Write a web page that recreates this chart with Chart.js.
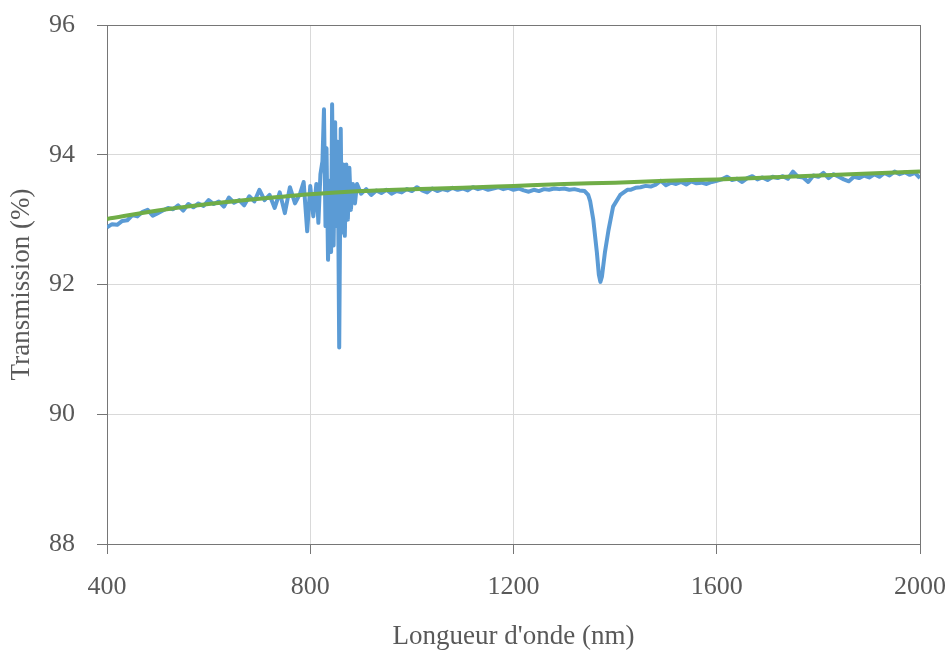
<!DOCTYPE html>
<html>
<head>
<meta charset="utf-8">
<title>Transmission</title>
<script src="https://cdn.jsdelivr.net/npm/chart.js@4/dist/chart.umd.min.js"></script>
<style>
  html, body { margin: 0; padding: 0; background: #fff; }
  #wrap { width: 947px; height: 650px; }
</style>
</head>
<body>
<div id="wrap"><canvas id="chart" width="947" height="650"></canvas></div>
<script>
// measured spectrum (nm / %)
const wavelengths = [
  400, 410, 420, 430, 440, 450, 460, 470, 480, 490,
  500, 510, 520, 530, 540, 550, 560, 570, 580, 590,
  600, 610, 620, 630, 640, 650, 660, 670, 680, 690,
  700, 710, 720, 730, 740, 750, 760, 770, 780, 787,
  794, 800, 806, 812, 816, 820, 824, 827, 830, 832,
  835, 838, 841, 843, 846, 849, 851, 854, 857, 860,
  862, 865, 868, 871, 874, 877, 880, 884, 888, 892,
  900, 910, 920, 930, 940, 950, 960, 970, 980, 990,
  1000, 1010, 1020, 1030, 1040, 1050, 1060, 1070, 1080, 1090,
  1100, 1110, 1120, 1130, 1140, 1150, 1160, 1170, 1180, 1190,
  1200, 1210, 1220, 1230, 1240, 1250, 1260, 1270, 1280, 1290,
  1300, 1310, 1320, 1330, 1340, 1347, 1351, 1357, 1364, 1368,
  1371, 1374, 1380, 1387, 1396, 1410, 1424, 1430, 1440, 1450,
  1460, 1470, 1480, 1490, 1500, 1510, 1520, 1530, 1540, 1550,
  1560, 1570, 1580, 1590, 1600, 1610, 1620, 1630, 1640, 1650,
  1660, 1670, 1680, 1690, 1700, 1710, 1720, 1730, 1740, 1750,
  1760, 1770, 1780, 1790, 1800, 1810, 1820, 1830, 1840, 1850,
  1860, 1870, 1880, 1890, 1900, 1910, 1920, 1930, 1940, 1950,
  1960, 1970, 1980, 1990, 2000
];
const transmission = [
  92.88, 92.93, 92.92, 92.98, 92.99, 93.07, 93.05, 93.12, 93.15, 93.06,
  93.10, 93.14, 93.18, 93.16, 93.22, 93.14, 93.24, 93.19, 93.25, 93.21,
  93.30, 93.24, 93.28, 93.20, 93.34, 93.26, 93.30, 93.22, 93.36, 93.28,
  93.46, 93.30, 93.38, 93.18, 93.42, 93.10, 93.50, 93.25, 93.40, 93.58,
  92.82, 93.52, 93.05, 93.55, 92.95, 93.70, 93.90, 94.70, 92.90, 94.10,
  92.38, 93.60, 92.50, 94.78, 92.60, 94.50, 92.90, 94.20, 91.03, 94.40,
  92.80, 93.85, 92.75, 93.85, 93.00, 93.80, 93.15, 93.55, 93.25, 93.55,
  93.40, 93.47, 93.38, 93.45, 93.41, 93.46, 93.40, 93.44, 93.42, 93.47,
  93.44, 93.50, 93.45, 93.42, 93.48, 93.44, 93.47, 93.45, 93.49, 93.46,
  93.48, 93.45, 93.50, 93.47, 93.49, 93.46, 93.48, 93.50, 93.47, 93.49,
  93.46, 93.48, 93.45, 93.43, 93.46, 93.44, 93.47, 93.46, 93.48, 93.47,
  93.48, 93.46, 93.47, 93.45, 93.44, 93.38, 93.28, 93.00, 92.50, 92.15,
  92.04, 92.12, 92.50, 92.84, 93.20, 93.38, 93.46, 93.46, 93.49, 93.50,
  93.52, 93.51, 93.54, 93.60, 93.53, 93.57, 93.55, 93.58, 93.54, 93.59,
  93.56, 93.57, 93.55, 93.58, 93.60, 93.62, 93.66, 93.61, 93.63, 93.58,
  93.64, 93.67, 93.62, 93.65, 93.61, 93.66, 93.64, 93.67, 93.63, 93.74,
  93.66, 93.65, 93.58, 93.68, 93.66, 93.72, 93.64, 93.70, 93.66, 93.62,
  93.59, 93.66, 93.64, 93.68, 93.65, 93.70, 93.66, 93.72, 93.68, 93.74,
  93.70, 93.73, 93.69, 93.72, 93.64
];

// fitted curve
const fitWavelengths = [400, 500, 600, 700, 800, 900, 1000, 1100, 1200, 1300, 1400, 1500, 1600, 1700, 1800, 1900, 2000];
const fitValues = [93.01, 93.14, 93.24, 93.32, 93.39, 93.44, 93.47, 93.49, 93.52, 93.55, 93.57, 93.60, 93.62, 93.65, 93.68, 93.71, 93.74];

const xTicks = [400, 800, 1200, 1600, 2000];
const yTicks = [88, 90, 92, 94, 96];

const textColor = '#595959';
const axisColor = '#767676';
const gridColor = '#d9d9d9';
const serif = "'Liberation Serif', 'DejaVu Serif', serif";

const measured = wavelengths.map((x, i) => ({ x, y: transmission[i] }));
const fitted = fitWavelengths.map((x, i) => ({ x, y: fitValues[i] }));

new Chart(document.getElementById('chart'), {
  type: 'line',
  data: {
    datasets: [
      {
        label: 'Fit',
        data: fitted,
        borderColor: '#70ad47',
        borderWidth: 4,
        pointRadius: 0,
        cubicInterpolationMode: 'monotone',
        order: 0
      },
      {
        label: 'Mesure',
        data: measured,
        borderColor: '#5b9bd5',
        borderWidth: 4,
        pointRadius: 0,
        tension: 0,
        borderJoinStyle: 'round',
        order: 1
      }
    ]
  },
  options: {
    responsive: false,
    animation: false,
    layout: { padding: { top: 25, right: 27, left: 0, bottom: 0 } },
    plugins: {
      legend: { display: false },
      tooltip: { enabled: false }
    },
    scales: {
      x: {
        type: 'linear',
        min: 400,
        max: 2000,
        afterBuildTicks: s => { s.ticks = xTicks.map(v => ({ value: v })); },
        afterFit: s => {
          s.height = 106;
          s.paddingLeft = 0;
          s.paddingRight = 0;
        },
        border: { color: axisColor, width: 1 },
        grid: {
          color: c => (c.tick && c.tick.value === 2000 ? axisColor : gridColor),
          tickColor: axisColor,
          tickLength: 10
        },
        ticks: {
          color: textColor,
          padding: 18,
          font: { family: serif, size: 26 },
          maxRotation: 0,
          callback: v => String(v)
        },
        title: {
          display: true,
          text: "Longueur d'onde (nm)",
          color: textColor,
          font: { family: serif, size: 27 },
          padding: { top: 0, bottom: -3 }
        }
      },
      y: {
        min: 88,
        max: 96,
        afterBuildTicks: s => { s.ticks = yTicks.map(v => ({ value: v })); },
        afterFit: s => {
          s.width = 107;
          s.paddingTop = 0;
          s.paddingBottom = 0;
        },
        border: { color: axisColor, width: 1 },
        grid: {
          color: c => (c.tick && c.tick.value === 96 ? axisColor : gridColor),
          tickColor: axisColor,
          tickLength: 10
        },
        ticks: {
          color: textColor,
          padding: 22,
          font: { family: serif, size: 26 },
          callback: v => String(v)
        },
        title: {
          display: true,
          text: 'Transmission (%)',
          color: textColor,
          font: { family: serif, size: 27 },
          padding: { top: 6, bottom: 0 }
        }
      }
    }
  }
});
</script>
</body>
</html>
